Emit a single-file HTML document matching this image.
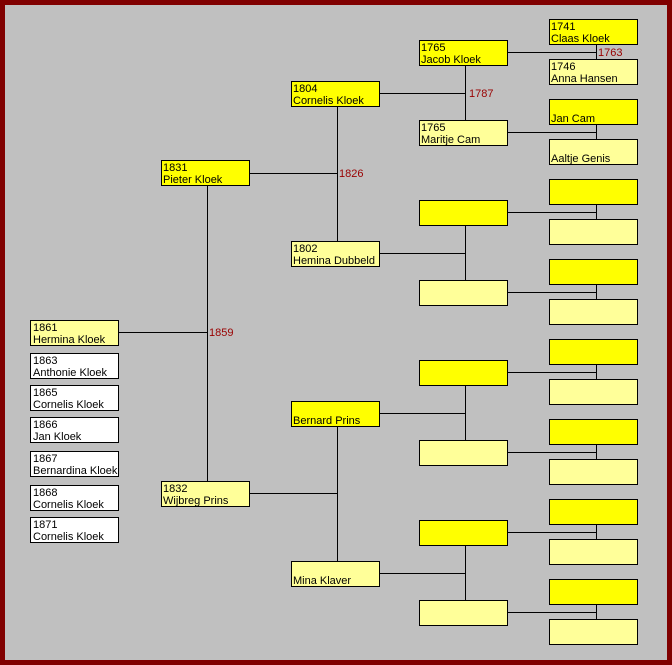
<!DOCTYPE html>
<html><head><style>
html,body{margin:0;padding:0;background:#800000;}
svg{display:block;font-family:"Liberation Sans",Arial,sans-serif;font-size:11px;}
</style></head><body>
<svg width="672" height="665" xmlns="http://www.w3.org/2000/svg">
<rect x="0" y="0" width="672" height="665" fill="#800000"/>
<rect x="5" y="5" width="662" height="655" fill="#c0c0c0"/>
<g stroke="#000" stroke-width="1" fill="none" shape-rendering="crispEdges">
<!-- gen0-gen1 -->
<line x1="207.5" y1="186" x2="207.5" y2="481"/><line x1="118" y1="332.5" x2="207" y2="332.5"/>
<!-- gen1-gen2 -->
<line x1="337.5" y1="106" x2="337.5" y2="241"/><line x1="249" y1="173.5" x2="337" y2="173.5"/>
<line x1="337.5" y1="426" x2="337.5" y2="561"/><line x1="249" y1="493.5" x2="337" y2="493.5"/>
<!-- gen2-gen3 -->
<line x1="465.5" y1="65" x2="465.5" y2="120"/><line x1="379" y1="93.5" x2="465" y2="93.5"/>
<line x1="465.5" y1="225" x2="465.5" y2="280"/><line x1="379" y1="253.5" x2="465" y2="253.5"/>
<line x1="465.5" y1="385" x2="465.5" y2="440"/><line x1="379" y1="413.5" x2="465" y2="413.5"/>
<line x1="465.5" y1="545" x2="465.5" y2="600"/><line x1="379" y1="573.5" x2="465" y2="573.5"/>
<!-- gen3-gen4 -->
<line x1="596.5" y1="44" x2="596.5" y2="59"/><line x1="508" y1="52.5" x2="596" y2="52.5"/>
<line x1="596.5" y1="124" x2="596.5" y2="139"/><line x1="508" y1="132.5" x2="596" y2="132.5"/>
<line x1="596.5" y1="204" x2="596.5" y2="219"/><line x1="508" y1="212.5" x2="596" y2="212.5"/>
<line x1="596.5" y1="284" x2="596.5" y2="299"/><line x1="508" y1="292.5" x2="596" y2="292.5"/>
<line x1="596.5" y1="364" x2="596.5" y2="379"/><line x1="508" y1="372.5" x2="596" y2="372.5"/>
<line x1="596.5" y1="444" x2="596.5" y2="459"/><line x1="508" y1="452.5" x2="596" y2="452.5"/>
<line x1="596.5" y1="524" x2="596.5" y2="539"/><line x1="508" y1="532.5" x2="596" y2="532.5"/>
<line x1="596.5" y1="604" x2="596.5" y2="619"/><line x1="508" y1="612.5" x2="596" y2="612.5"/>
</g>
<g stroke="#000" stroke-width="1" shape-rendering="crispEdges">
<!-- children -->
<rect x="30.5" y="320.5" width="88" height="25" fill="#ffff99"/>
<rect x="30.5" y="353.5" width="88" height="25" fill="#fff"/>
<rect x="30.5" y="385.5" width="88" height="25" fill="#fff"/>
<rect x="30.5" y="417.5" width="88" height="25" fill="#fff"/>
<rect x="30.5" y="451.5" width="88" height="25" fill="#fff"/>
<rect x="30.5" y="485.5" width="88" height="25" fill="#fff"/>
<rect x="30.5" y="517.5" width="88" height="25" fill="#fff"/>
<!-- gen1 -->
<rect x="161.5" y="160.5" width="88" height="25" fill="#ffff00"/>
<rect x="161.5" y="481.5" width="88" height="25" fill="#ffff99"/>
<!-- gen2 -->
<rect x="291.5" y="81.5" width="88" height="25" fill="#ffff00"/>
<rect x="291.5" y="241.5" width="88" height="25" fill="#ffff99"/>
<rect x="291.5" y="401.5" width="88" height="25" fill="#ffff00"/>
<rect x="291.5" y="561.5" width="88" height="25" fill="#ffff99"/>
<!-- gen3 -->
<rect x="419.5" y="40.5" width="88" height="25" fill="#ffff00"/>
<rect x="419.5" y="120.5" width="88" height="25" fill="#ffff99"/>
<rect x="419.5" y="200.5" width="88" height="25" fill="#ffff00"/>
<rect x="419.5" y="280.5" width="88" height="25" fill="#ffff99"/>
<rect x="419.5" y="360.5" width="88" height="25" fill="#ffff00"/>
<rect x="419.5" y="440.5" width="88" height="25" fill="#ffff99"/>
<rect x="419.5" y="520.5" width="88" height="25" fill="#ffff00"/>
<rect x="419.5" y="600.5" width="88" height="25" fill="#ffff99"/>
<!-- gen4 -->
<rect x="549.5" y="19.5" width="88" height="25" fill="#ffff00"/>
<rect x="549.5" y="59.5" width="88" height="25" fill="#ffff99"/>
<rect x="549.5" y="99.5" width="88" height="25" fill="#ffff00"/>
<rect x="549.5" y="139.5" width="88" height="25" fill="#ffff99"/>
<rect x="549.5" y="179.5" width="88" height="25" fill="#ffff00"/>
<rect x="549.5" y="219.5" width="88" height="25" fill="#ffff99"/>
<rect x="549.5" y="259.5" width="88" height="25" fill="#ffff00"/>
<rect x="549.5" y="299.5" width="88" height="25" fill="#ffff99"/>
<rect x="549.5" y="339.5" width="88" height="25" fill="#ffff00"/>
<rect x="549.5" y="379.5" width="88" height="25" fill="#ffff99"/>
<rect x="549.5" y="419.5" width="88" height="25" fill="#ffff00"/>
<rect x="549.5" y="459.5" width="88" height="25" fill="#ffff99"/>
<rect x="549.5" y="499.5" width="88" height="25" fill="#ffff00"/>
<rect x="549.5" y="539.5" width="88" height="25" fill="#ffff99"/>
<rect x="549.5" y="579.5" width="88" height="25" fill="#ffff00"/>
<rect x="549.5" y="619.5" width="88" height="25" fill="#ffff99"/>
</g>
<g fill="#000">
<text x="33" y="331">1861</text><text x="33" y="343">Hermina Kloek</text>
<text x="33" y="364">1863</text><text x="33" y="376">Anthonie Kloek</text>
<text x="33" y="396">1865</text><text x="33" y="408">Cornelis Kloek</text>
<text x="33" y="428">1866</text><text x="33" y="440">Jan Kloek</text>
<text x="33" y="462">1867</text><text x="33" y="474">Bernardina Kloek</text>
<text x="33" y="496">1868</text><text x="33" y="508">Cornelis Kloek</text>
<text x="33" y="528">1871</text><text x="33" y="540">Cornelis Kloek</text>
<text x="163" y="171">1831</text><text x="163" y="183">Pieter Kloek</text>
<text x="163" y="492">1832</text><text x="163" y="504">Wijbreg Prins</text>
<text x="293" y="92">1804</text><text x="293" y="104">Cornelis Kloek</text>
<text x="293" y="252">1802</text><text x="293" y="264">Hemina Dubbeld</text>
<text x="293" y="424">Bernard Prins</text>
<text x="293" y="584">Mina Klaver</text>
<text x="421" y="51">1765</text><text x="421" y="63">Jacob Kloek</text>
<text x="421" y="131">1765</text><text x="421" y="143">Maritje Cam</text>
<text x="551" y="30">1741</text><text x="551" y="42">Claas Kloek</text>
<text x="551" y="70">1746</text><text x="551" y="82">Anna Hansen</text>
<text x="551" y="122">Jan Cam</text>
<text x="551" y="162">Aaltje Genis</text>
</g>
<g fill="#990000">
<text x="209" y="336">1859</text>
<text x="339" y="177">1826</text>
<text x="469" y="97">1787</text>
<text x="598" y="56">1763</text>
</g>
</svg>
</body></html>
